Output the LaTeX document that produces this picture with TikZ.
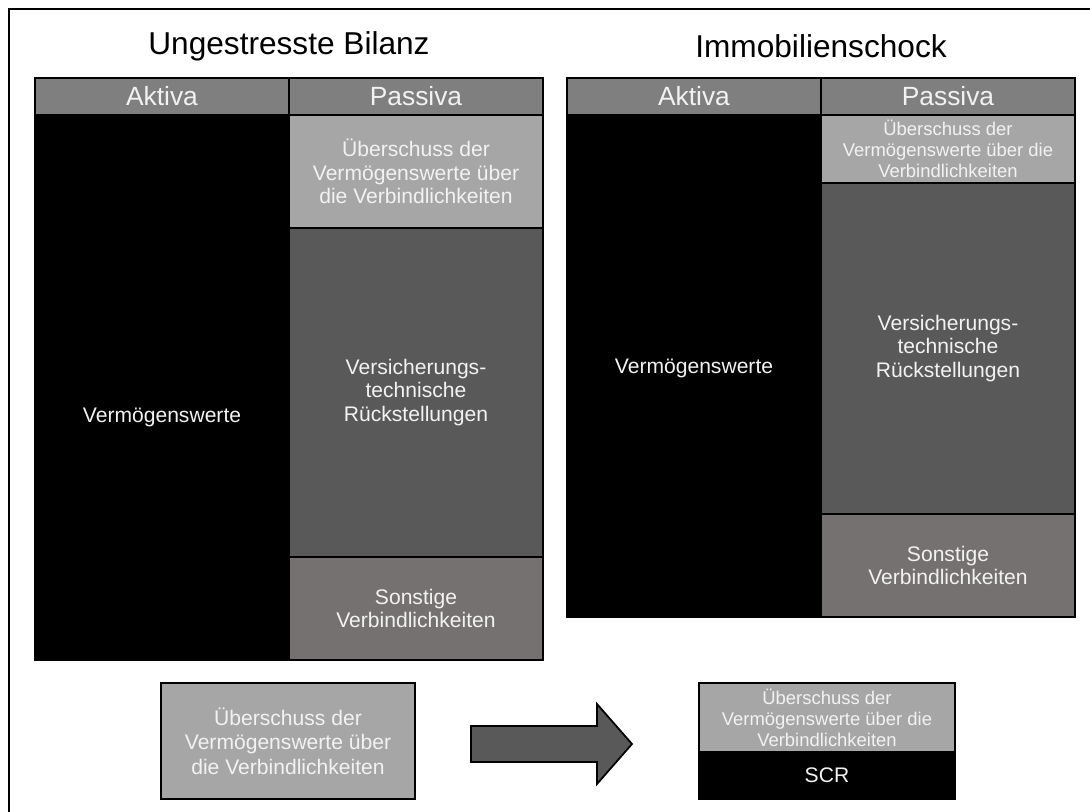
\documentclass[tikz,border=0pt]{standalone}
\usepackage{fontspec}
\setmainfont{Liberation Sans}

\definecolor{hdrgray}{HTML}{7F7F7F}
\definecolor{lightcell}{HTML}{A6A6A6}
\definecolor{darkcell}{HTML}{595959}
\definecolor{warmcell}{HTML}{767171}
\definecolor{celltext}{HTML}{F2F2F2}

\newcommand{\titlefont}{\fontsize{18}{21}\selectfont}
\newcommand{\headfont}{\fontsize{15}{18}\selectfont}
\newcommand{\bodyfont}{\fontsize{12}{13.5}\selectfont}
\newcommand{\smallbody}{\fontsize{10.5}{12}\selectfont}
\newcommand{\boxfont}{\fontsize{12}{14}\selectfont}

\tikzset{
	cell/.style={draw=black, line width=1pt, inner sep=0pt, align=center, text=celltext, font=\bodyfont},
	celltxt/.style={text=celltext, font=\bodyfont, align=center},
	titletext/.style={font=\titlefont, text=black}
}

% name, x1, y1, x2, y2, style, text
\newcommand{\bilcell}[7]{%
	\node[cell, #6, minimum width={((#4)-(#2))*0.02cm}, minimum height={((#5)-(#3))*0.02cm}]
		(#1) at ({((#2)+(#4))/2},{((#3)+(#5))/2}) {#7};%
}

\begin{document}
\begin{tikzpicture}[x=0.02cm, y=-0.02cm]
		\useasboundingbox (0,0) rectangle (1090,812);

		% frame, runs out at the right and bottom
		\draw[line width=1.1pt] (9,830) -- (9,9) -- (1110,9);

		\foreach \ox/\tn/\ttl/\bot/\vy in {0/l/Ungestresste Bilanz/660/417, 532/r/Immobilienschock/617/368} {
			\node[titletext] (\tn-title) at (289+\ox,46) {\ttl};
			\bilcell{\tn-akt}{35+\ox}{115}{289+\ox}{\bot}{fill=black}{}
			\bilcell{\tn-ahead}{35+\ox}{78}{289+\ox}{115}{fill=hdrgray, font=\headfont}{Aktiva}
			\bilcell{\tn-phead}{289+\ox}{78}{543+\ox}{115}{fill=hdrgray, font=\headfont}{Passiva}
			\node[celltxt] (\tn-vw) at (162+\ox,\vy) {Vermögenswerte};
		}

		% Passiva, ungestresst
		\bilcell{l-ueber}{289}{115}{543}{228}{fill=lightcell}{Überschuss der\\Vermögenswerte über\\die Verbindlichkeiten}
		\bilcell{l-vt}{289}{228}{543}{557}{fill=darkcell}{Versicherungs-\\technische\\Rückstellungen}
		\bilcell{l-sonst}{289}{557}{543}{660}{fill=warmcell}{Sonstige\\Verbindlichkeiten}

		% Passiva, nach dem Schock
		\bilcell{r-ueber}{821}{115}{1075}{183}{fill=lightcell, font=\smallbody}{Überschuss der\\Vermögenswerte über die\\Verbindlichkeiten}
		\bilcell{r-vt}{821}{183}{1075}{514}{fill=darkcell}{Versicherungs-\\technische\\Rückstellungen}
		\bilcell{r-sonst}{821}{514}{1075}{617}{fill=warmcell}{Sonstige\\Verbindlichkeiten}

		% unten
		\bilcell{surplus}{161}{683}{415}{799}{fill=lightcell, font=\boxfont}{Überschuss der\\Vermögenswerte über\\die Verbindlichkeiten}
		\bilcell{surplus-new}{699}{683}{955}{752}{fill=lightcell, font=\smallbody}{Überschuss der\\Vermögenswerte über die\\Verbindlichkeiten}
		\bilcell{scr}{699}{752}{955}{799}{fill=black}{SCR}

		\draw[fill=darkcell, line width=1pt] (471,726) -- (597,726) -- (597,704) -- (632,744)
			-- (597,784) -- (597,762) -- (471,762) -- cycle;
	\end{tikzpicture}
\end{document}
